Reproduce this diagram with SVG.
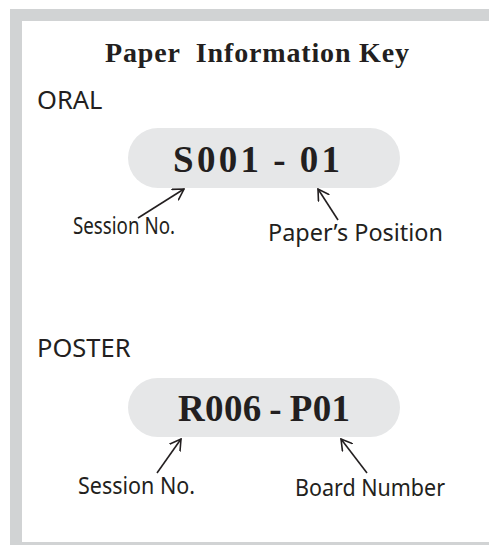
<svg xmlns="http://www.w3.org/2000/svg" width="489" height="545" viewBox="0 0 489 545">
<style>
.title{font-family:"Liberation Serif",serif;font-weight:bold;font-size:28px;fill:#231f20;letter-spacing:1px}
.code{font-family:"Liberation Serif",serif;font-weight:bold;font-size:37px;fill:#231f20}
.head{font-family:"Noto Sans","Open Sans",sans-serif;font-size:25.5px;fill:#231f20}
.lbl{font-family:"Noto Sans","Open Sans",sans-serif;font-size:23px;fill:#231f20}
.pill{fill:#e6e7e8}
.arr{stroke:#231f20;stroke-width:1.6;fill:none;marker-end:url(#ah)}
</style>
<defs>
<marker id="ah" viewBox="0 0 12 14" refX="11" refY="7" markerWidth="12" markerHeight="14" markerUnits="userSpaceOnUse" orient="auto">
<path d="M0,0.5 L11,7 L0,13.5" fill="none" stroke="#231f20" stroke-width="1.6"/>
</marker>
</defs>
<rect x="10" y="9" width="479" height="536" fill="#d1d3d4"/>
<rect x="22" y="21" width="467" height="521" fill="#ffffff"/>
<g id="title"><text class="title" x="105" y="62" textLength="305" xml:space="preserve">Paper  Information Key</text></g>
<g id="oral-head"><text class="head" x="37" y="109">ORAL</text></g>
<g id="oral-code">
<rect class="pill" x="128" y="128" width="272" height="60" rx="30"/>
<text class="code" x="173" y="172" textLength="167" xml:space="preserve">S001&#8201;-&#8201;01</text>
</g>
<g id="oral-session"><text class="lbl" x="73" y="234" textLength="102" lengthAdjust="spacingAndGlyphs">Session No.</text></g>
<g id="oral-position"><text class="lbl" x="268" y="241" textLength="175" lengthAdjust="spacingAndGlyphs">Paper’s Position</text></g>
<g id="poster-head"><text class="head" x="37" y="357">POSTER</text></g>
<g id="poster-code">
<rect class="pill" x="128" y="378" width="272" height="59" rx="29.5"/>
<text class="code" x="178" y="421" textLength="172" xml:space="preserve">R006&#8201;-&#8201;P01</text>
</g>
<g id="poster-session"><text class="lbl" x="78" y="494" textLength="117" lengthAdjust="spacingAndGlyphs">Session No.</text></g>
<g id="poster-board"><text class="lbl" x="295" y="496" textLength="150" lengthAdjust="spacingAndGlyphs">Board Number</text></g>
<g id="connectors">
<line class="arr" x1="138" y1="218" x2="184" y2="189"/>
<line class="arr" x1="338" y1="220" x2="318" y2="189"/>
<line class="arr" x1="157" y1="473" x2="181" y2="439"/>
<line class="arr" x1="367" y1="473" x2="341" y2="439"/>
</g>
</svg>
